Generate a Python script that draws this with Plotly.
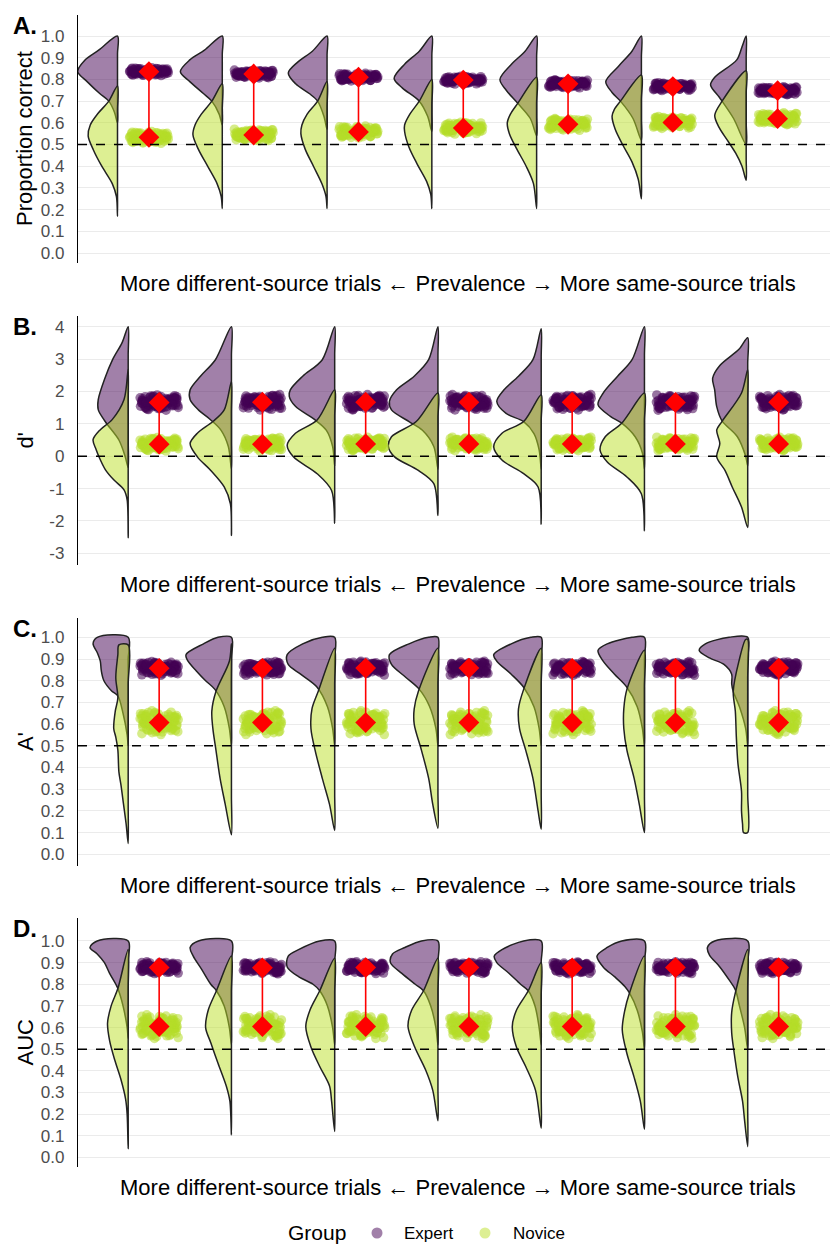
import plotly.graph_objects as go

# ---------------- DATA ----------------
CONDITIONS = [1, 2, 3, 4, 5, 6, 7]
GROUPS = ["Expert", "Novice"]
PANEL_LETTERS = ["A.", "B.", "C.", "D."]
Y_TITLES = ["Proportion correct", "d'", "A'", "AUC"]
X_TITLE = "More different-source trials \u2190 Prevalence \u2192 More same-source trials"
LEGEND_TITLE = "Group"
CHANCE = [0.5, 0.0, 0.5, 0.5]

# group means (red diamonds)
PC_EXPERT_MEAN = [0.836, 0.825, 0.81, 0.797, 0.78, 0.767, 0.748]
PC_NOVICE_MEAN = [0.533, 0.544, 0.558, 0.576, 0.593, 0.602, 0.619]
DP_EXPERT_MEAN = [1.66, 1.67, 1.67, 1.67, 1.67, 1.66, 1.67]
DP_NOVICE_MEAN = [0.37, 0.37, 0.38, 0.38, 0.38, 0.38, 0.38]
AP_EXPERT_MEAN = [0.857, 0.857, 0.858, 0.858, 0.857, 0.857, 0.858]
AP_NOVICE_MEAN = [0.607, 0.607, 0.607, 0.607, 0.607, 0.607, 0.607]
AUC_EXPERT_MEAN = [0.877, 0.876, 0.877, 0.877, 0.876, 0.877, 0.877]
AUC_NOVICE_MEAN = [0.605, 0.605, 0.605, 0.605, 0.605, 0.605, 0.605]

# half-width of the participant point bands (score units)
PT_SPREAD_EXPERT = [0.02, 0.26, 0.035, 0.03]
PT_SPREAD_NOVICE = [0.03, 0.23, 0.06, 0.06]

# density outlines: (score, density width) pairs, top to bottom
PC_EXPERT_DENS = [
    [(1.0, 0), (0.935, .18), (0.89, .31), (0.836, .38), (0.79, .29), (0.735, .17), (0.70, .083), (0.65, .03), (0.60, 0)],
    [(1.0, 0), (0.935, .17), (0.89, .31), (0.836, .40), (0.79, .31), (0.735, .18), (0.70, .10), (0.64, .03), (0.59, 0)],
    [(1.0, 0), (0.93, .14), (0.88, .28), (0.83, .37), (0.78, .30), (0.735, .17), (0.70, .09), (0.63, .03), (0.57, 0)],
    [(1.0, 0), (0.93, .12), (0.87, .26), (0.805, .36), (0.76, .28), (0.70, .12), (0.63, .04), (0.56, 0)],
    [(1.0, 0), (0.93, .11), (0.87, .24), (0.80, .35), (0.75, .29), (0.69, .18), (0.62, .06), (0.54, 0)],
    [(1.0, 0), (0.93, .09), (0.86, .22), (0.79, .34), (0.74, .28), (0.70, .20), (0.62, .08), (0.52, 0)],
    [(1.0, 0), (0.95, .04), (0.89, .09), (0.81, .30), (0.775, .34), (0.72, .26), (0.70, .23), (0.62, .12), (0.50, 0)],
]
PC_NOVICE_DENS = [
    [(0.77, 0), (0.70, .083), (0.644, .185), (0.59, .26), (0.54, .28), (0.475, .23), (0.40, .15), (0.32, .05), (0.26, .01), (0.17, 0)],
    [(0.78, 0), (0.70, .10), (0.64, .20), (0.59, .26), (0.545, .28), (0.48, .23), (0.40, .14), (0.32, .05), (0.26, .01), (0.205, 0)],
    [(0.79, 0), (0.70, .09), (0.64, .19), (0.59, .24), (0.55, .25), (0.48, .21), (0.40, .13), (0.32, .05), (0.26, .01), (0.205, 0)],
    [(0.80, 0), (0.70, .12), (0.64, .21), (0.59, .26), (0.56, .26), (0.49, .22), (0.41, .14), (0.33, .05), (0.27, .01), (0.205, 0)],
    [(0.81, 0), (0.69, .18), (0.64, .25), (0.60, .28), (0.55, .26), (0.48, .19), (0.40, .10), (0.32, .03), (0.205, 0)],
    [(0.82, 0), (0.70, .20), (0.66, .26), (0.63, .28), (0.57, .25), (0.50, .18), (0.42, .09), (0.34, .03), (0.25, 0)],
    [(0.84, 0), (0.70, .23), (0.635, .30), (0.58, .26), (0.52, .18), (0.46, .10), (0.40, .04), (0.335, 0)],
]
DP_EXPERT_DENS = [
    [(4.0, 0), (3.5, .06), (2.99, .15), (2.37, .23), (1.75, .29), (1.44, .29), (1.13, .235), (0.97, .20), (0.5, .09), (0.0, .03), (-0.35, 0)],
    [(4.0, 0), (2.98, .155), (2.47, .30), (2.05, .40), (1.74, .40), (1.43, .32), (1.12, .20), (0.8, .10), (0.3, .03), (-0.4, 0)],
    [(4.0, 0), (2.98, .12), (2.47, .31), (2.05, .43), (1.85, .44), (1.54, .38), (1.12, .19), (0.8, .08), (0.3, .02), (-0.3, 0)],
    [(4.0, 0), (2.98, .09), (2.47, .23), (2.05, .40), (1.69, .47), (1.43, .45), (1.07, .28), (0.8, .15), (0.3, .04), (-0.4, 0)],
    [(3.94, 0), (2.98, .08), (2.47, .22), (2.05, .36), (1.69, .43), (1.32, .34), (1.07, .17), (0.7, .07), (0.2, .02), (-0.4, 0)],
    [(4.0, 0), (2.98, .12), (2.47, .26), (1.95, .40), (1.59, .45), (1.23, .33), (1.02, .22), (0.6, .09), (0.1, .02), (-0.4, 0)],
    [(3.66, 0), (3.3, .085), (2.8, .27), (2.40, .34), (2.05, .32), (1.53, .30), (1.10, .25), (0.6, .10), (0.0, .02), (-0.3, 0)],
]
DP_NOVICE_DENS = [
    [(2.68, 0), (1.75, .04), (1.13, .155), (0.82, .27), (0.51, .34), (0.2, .31), (-0.11, .27), (-0.42, .22), (-0.73, .14), (-1.04, .04), (-1.35, .01), (-2.52, 0)],
    [(2.31, 0), (1.43, .07), (1.07, .18), (0.71, .33), (0.39, .40), (-0.02, .33), (-0.44, .20), (-0.95, .07), (-1.47, .01), (-2.45, 0)],
    [(2.05, 0), (1.12, .17), (0.71, .38), (0.34, .46), (-0.02, .40), (-0.54, .17), (-1.06, .03), (-2.07, 0)],
    [(1.95, 0), (1.07, .21), (0.60, .45), (0.29, .48), (-0.02, .42), (-0.44, .19), (-0.85, .04), (-1.83, 0)],
    [(1.90, 0), (1.07, .17), (0.71, .38), (0.29, .46), (-0.12, .38), (-0.54, .17), (-0.95, .03), (-2.1, 0)],
    [(1.95, 0), (1.02, .22), (0.60, .38), (0.19, .43), (-0.18, .36), (-0.64, .17), (-1.16, .03), (-2.3, 0)],
    [(2.67, 0), (1.95, .06), (1.07, .25), (0.81, .30), (0.39, .27), (-0.02, .30), (-0.44, .22), (-0.95, .15), (-1.57, .06), (-2.2, 0)],
]
AP_EXPERT_DENS = [
    [(1.0, .30), (0.97, .34), (0.93, .30), (0.89, .27), (0.845, .26), (0.80, .235), (0.753, .16), (0.73, .10), (0.65, .05), (0.55, .01), (0.5, 0)],
    [(1.0, .13), (0.97, .27), (0.92, .44), (0.89, .42), (0.845, .34), (0.80, .25), (0.76, .16), (0.68, .07), (0.58, .02), (0.5, 0)],
    [(1.0, .12), (0.97, .31), (0.92, .46), (0.875, .45), (0.83, .33), (0.77, .17), (0.68, .07), (0.58, .02), (0.5, 0)],
    [(1.0, .09), (0.97, .28), (0.92, .47), (0.875, .45), (0.815, .31), (0.76, .18), (0.68, .08), (0.58, .02), (0.5, 0)],
    [(1.0, .10), (0.97, .29), (0.92, .46), (0.89, .43), (0.83, .29), (0.77, .17), (0.68, .07), (0.58, .02), (0.5, 0)],
    [(1.0, .12), (0.97, .36), (0.94, .45), (0.89, .40), (0.83, .29), (0.77, .17), (0.68, .07), (0.58, .02), (0.5, 0)],
    [(1.0, .18), (0.97, .41), (0.94, .47), (0.905, .37), (0.875, .23), (0.83, .155), (0.785, .155), (0.75, .14), (0.68, .08), (0.58, .02), (0.5, 0)],
]
AP_NOVICE_DENS = [
    [(0.965, .09), (0.92, .10), (0.815, .12), (0.72, .10), (0.66, .125), (0.58, .14), (0.54, .12), (0.48, .10), (0.38, .09), (0.32, .07), (0.23, .045), (0.14, .02), (0.05, 0)],
    [(0.97, 0), (0.89, .02), (0.75, .15), (0.66, .19), (0.58, .18), (0.48, .15), (0.35, .11), (0.23, .06), (0.09, 0)],
    [(0.95, 0), (0.75, .16), (0.67, .22), (0.58, .23), (0.48, .19), (0.35, .12), (0.23, .05), (0.11, 0)],
    [(0.95, 0), (0.75, .19), (0.67, .23), (0.60, .23), (0.48, .16), (0.35, .09), (0.23, .05), (0.12, 0)],
    [(0.95, 0), (0.76, .17), (0.67, .22), (0.58, .21), (0.48, .15), (0.35, .08), (0.20, .03), (0.115, 0)],
    [(0.94, 0), (0.76, .17), (0.67, .20), (0.58, .20), (0.48, .17), (0.35, .10), (0.23, .05), (0.10, 0)],
    [(0.99, .02), (0.89, .085), (0.75, .14), (0.66, .12), (0.54, .11), (0.42, .095), (0.29, .06), (0.20, .06), (0.14, .05), (0.10, .04)],
]
AUC_EXPERT_DENS = [
    [(1.0, .30), (0.97, .37), (0.94, .30), (0.90, .23), (0.85, .18), (0.80, .12), (0.78, .10), (0.70, .05), (0.6, .01), (0.55, 0)],
    [(1.0, .32), (0.97, .40), (0.93, .37), (0.87, .29), (0.80, .20), (0.77, .145), (0.70, .07), (0.6, .02), (0.52, 0)],
    [(1.0, .145), (0.96, .35), (0.93, .45), (0.88, .46), (0.835, .35), (0.80, .21), (0.77, .145), (0.70, .07), (0.6, .02), (0.52, 0)],
    [(1.0, .16), (0.97, .32), (0.94, .44), (0.90, .46), (0.85, .35), (0.80, .22), (0.77, .14), (0.70, .07), (0.6, .02), (0.52, 0)],
    [(1.0, .17), (0.96, .38), (0.93, .455), (0.90, .43), (0.85, .31), (0.80, .20), (0.77, .125), (0.70, .06), (0.6, .02), (0.52, 0)],
    [(1.0, .22), (0.97, .36), (0.93, .46), (0.88, .40), (0.835, .29), (0.79, .19), (0.76, .145), (0.68, .07), (0.58, .02), (0.5, 0)],
    [(1.0, .32), (0.97, .39), (0.935, .37), (0.88, .27), (0.82, .18), (0.775, .12), (0.70, .08), (0.60, .03), (0.5, 0)],
]
AUC_NOVICE_DENS = [
    [(0.96, 0), (0.78, .10), (0.70, .165), (0.62, .20), (0.54, .18), (0.45, .13), (0.36, .07), (0.27, .025), (0.20, .01), (0.04, 0)],
    [(0.93, 0), (0.77, .145), (0.68, .225), (0.60, .25), (0.53, .20), (0.435, .13), (0.33, .05), (0.26, .015), (0.105, 0)],
    [(0.92, 0), (0.77, .145), (0.68, .24), (0.605, .28), (0.51, .23), (0.42, .145), (0.33, .05), (0.26, .03), (0.12, 0)],
    [(0.92, 0), (0.77, .14), (0.68, .255), (0.605, .29), (0.51, .225), (0.405, .12), (0.31, .05), (0.17, 0)],
    [(0.90, 0), (0.77, .125), (0.68, .24), (0.605, .28), (0.51, .24), (0.42, .15), (0.31, .055), (0.135, 0)],
    [(0.93, 0), (0.76, .145), (0.68, .19), (0.59, .215), (0.48, .17), (0.37, .10), (0.26, .04), (0.13, 0)],
    [(0.96, 0), (0.76, .12), (0.67, .155), (0.575, .155), (0.48, .13), (0.37, .095), (0.26, .05), (0.17, .03), (0.05, 0)],
]

# fixed jitter pattern (normalised offsets) used to spread the participant dots
JIT_DX = [-0.95, -0.71, -0.42, -0.18, 0.05, 0.31, 0.58, 0.83, 0.97, -0.88, -0.55, -0.30, -0.02, 0.22,
          0.47, 0.74, 0.91, -0.79, -0.63, -0.37, -0.10, 0.14, 0.39, 0.66, 0.88, -0.97, -0.47, -0.24,
          0.09, 0.35, 0.61, 0.79, -0.84, -0.12, 0.27, 0.52, 0.95, -0.66, 0.01, 0.70]
JIT_DY = [0.12, -0.45, 0.68, -0.10, 0.35, -0.72, 0.05, 0.50, -0.28, -0.60, 0.22, -0.85, 0.78, -0.38,
          0.15, -0.05, 0.62, 0.40, -0.18, 0.02, -0.52, 0.90, -0.66, 0.28, -0.40, -0.02, 0.55, 0.30,
          -0.25, 0.72, -0.92, 0.10, 0.80, 0.45, -0.12, -0.55, 0.18, -0.35, -0.70, 0.60]

# ---------------- STYLE / LAYOUT ----------------
W, H = 830, 1245
LEFT = 78
PLOT_W = W - LEFT
FONT = "Liberation Sans, Arial, sans-serif"
EXP_FILL = "rgba(68,1,84,0.5)"
NOV_FILL = "rgba(187,223,39,0.5)"
EXP_PT = "rgba(68,1,84,0.55)"
NOV_PT = "rgba(180,220,40,0.55)"
OUTLINE = "#222222"

PANEL_PX = [(15, 263), (316, 565), (618, 866), (918, 1167)]
Y_RANGES = [(-0.046, 1.097), (-3.36, 4.33), (-0.054, 1.089), (-0.044, 1.106)]
X_RANGES = [(0.623, 7.80), (0.514, 7.797), (0.514, 7.797), (0.514, 7.797)]
XTITLE_PX = [283, 584, 885, 1187]
PT_OFFSET = 0.30
PT_XJIT = 0.19


def px_x(px):
    return (px - LEFT) / PLOT_W


def px_y(py):
    return (H - py) / H


panels = [
    (PC_EXPERT_DENS, PC_NOVICE_DENS, PC_EXPERT_MEAN, PC_NOVICE_MEAN),
    (DP_EXPERT_DENS, DP_NOVICE_DENS, DP_EXPERT_MEAN, DP_NOVICE_MEAN),
    (AP_EXPERT_DENS, AP_NOVICE_DENS, AP_EXPERT_MEAN, AP_NOVICE_MEAN),
    (AUC_EXPERT_DENS, AUC_NOVICE_DENS, AUC_EXPERT_MEAN, AUC_NOVICE_MEAN),
]


def violin_path(cat, prof):
    xs, ys = [], []
    vt, vb = prof[0][0], prof[-1][0]
    xs.append(cat); ys.append(vt)
    for i, (v, w) in enumerate(prof):
        if w == 0 and (i == 0 or i == len(prof) - 1):
            continue
        xs.append(cat - w); ys.append(v)
    xs.append(cat); ys.append(vb)
    for f in (0.2, 0.4, 0.6, 0.8):
        xs.append(cat); ys.append(vb + (vt - vb) * f)
    xs.append(cat); ys.append(vt)
    return xs, ys


fig = go.Figure()
annotations = []
shapes = []
layout = {}

for p, (edens, ndens, emean, nmean) in enumerate(panels):
    xa = "x" if p == 0 else f"x{p + 1}"
    ya = "y" if p == 0 else f"y{p + 1}"
    for dens, fill in ((edens, EXP_FILL), (ndens, NOV_FILL)):
        X, Y = [], []
        for c, prof in zip(CONDITIONS, dens):
            xs, ys = violin_path(c, prof)
            X += xs + [None]
            Y += ys + [None]
        fig.add_trace(go.Scatter(x=X, y=Y, mode="lines", fill="toself", fillcolor=fill,
                                 line=dict(color=OUTLINE, width=1.5, shape="spline", smoothing=0.9),
                                 xaxis=xa, yaxis=ya, showlegend=False, hoverinfo="skip"))
    for means, spread, col in ((emean, PT_SPREAD_EXPERT[p], EXP_PT), (nmean, PT_SPREAD_NOVICE[p], NOV_PT)):
        X, Y = [], []
        n = len(JIT_DX)
        for k, (c, m) in enumerate(zip(CONDITIONS, means)):
            for rep, (sx, sy) in enumerate(((7, 3), (13, 17))):
                for j in range(n):
                    dx = JIT_DX[(j + sx * k + rep * 5) % n]
                    dy = JIT_DY[(j + sy * k + p + rep * 11) % n]
                    if rep:
                        dx = -dx * 0.92
                        dy = dy * 0.85
                    X.append(c + PT_OFFSET + dx * PT_XJIT)
                    Y.append(m + dy * spread)
        fig.add_trace(go.Scatter(x=X, y=Y, mode="markers",
                                 marker=dict(size=9.5, color=col, line=dict(width=0)),
                                 xaxis=xa, yaxis=ya, showlegend=False, hoverinfo="skip"))
    LX, LY = [], []
    for c, e, nv in zip(CONDITIONS, emean, nmean):
        LX += [c + PT_OFFSET, c + PT_OFFSET, None]
        LY += [e, nv, None]
    fig.add_trace(go.Scatter(x=LX, y=LY, mode="lines", line=dict(color="red", width=1.6),
                             xaxis=xa, yaxis=ya, showlegend=False, hoverinfo="skip"))
    fig.add_trace(go.Scatter(x=[c + PT_OFFSET for c in CONDITIONS] * 2, y=list(emean) + list(nmean),
                             mode="markers", marker=dict(symbol="diamond", size=16, color="red", line=dict(width=0)),
                             xaxis=xa, yaxis=ya, showlegend=False, hoverinfo="skip"))

    top, bot = PANEL_PX[p]
    dom = [px_y(bot), px_y(top)]
    if p == 1:
        tickvals = [-3, -2, -1, 0, 1, 2, 3, 4]
        ticktext = [str(t) for t in tickvals]
    else:
        tickvals = [i / 10 for i in range(11)]
        ticktext = [f"{t:.1f}" for t in tickvals]
    layout["xaxis" if p == 0 else f"xaxis{p + 1}"] = dict(
        domain=[0, 1], anchor=ya, range=list(X_RANGES[p]), showgrid=False, zeroline=False,
        showticklabels=False, showline=False, ticks="")
    layout["yaxis" if p == 0 else f"yaxis{p + 1}"] = dict(
        domain=dom, anchor=xa, range=list(Y_RANGES[p]), tickvals=tickvals, ticktext=ticktext,
        showgrid=True, gridcolor="#EBEBEB", gridwidth=1, zeroline=False, showline=True,
        linecolor="black", linewidth=1.3, ticks="", ticklabelstandoff=9,
        tickfont=dict(family=FONT, size=17, color="#4D4D4D"), automargin=False)
    shapes.append(dict(type="line", xref=f"{xa} domain", x0=0, x1=1, yref=ya, y0=CHANCE[p], y1=CHANCE[p],
                       line=dict(color="black", width=1.5, dash="dash"), layer="above"))
    annotations.append(dict(text=f"<b>{PANEL_LETTERS[p]}</b>", xref="paper", yref="paper",
                            x=px_x(11), y=px_y(top + 10), xanchor="left", yanchor="middle",
                            showarrow=False, font=dict(family=FONT, size=24, color="black")))
    annotations.append(dict(text=Y_TITLES[p], xref="paper", yref="paper", textangle=-90,
                            x=px_x(25), y=(dom[0] + dom[1]) / 2, xanchor="center", yanchor="middle",
                            showarrow=False, font=dict(family=FONT, size=22, color="black")))
    annotations.append(dict(text=X_TITLE, xref="paper", yref="paper",
                            x=px_x(458), y=px_y(XTITLE_PX[p]), xanchor="center", yanchor="middle",
                            showarrow=False, font=dict(family=FONT, size=22, color="black")))

# manual legend at the bottom
LEG_Y = 1232
annotations.append(dict(text=LEGEND_TITLE, xref="paper", yref="paper", x=px_x(287), y=px_y(LEG_Y),
                        xanchor="left", yanchor="middle", showarrow=False, borderpad=0,
                        font=dict(family=FONT, size=21, color="black")))
for g, col, dot_px, txt_px in zip(GROUPS, (EXP_FILL, NOV_FILL), (377, 485), (403, 512)):
    r = 5.5
    shapes.append(dict(type="circle", xref="paper", yref="paper",
                       x0=px_x(dot_px - r), x1=px_x(dot_px + r), y0=px_y(LEG_Y + 1 + r), y1=px_y(LEG_Y + 1 - r),
                       fillcolor=col, line=dict(width=0)))
    annotations.append(dict(text=g, xref="paper", yref="paper", x=px_x(txt_px), y=px_y(LEG_Y + 1),
                            xanchor="left", yanchor="middle", showarrow=False, borderpad=0,
                            font=dict(family=FONT, size=17, color="black")))

fig.update_layout(
    width=W, height=H, plot_bgcolor="white", paper_bgcolor="white",
    margin=dict(l=LEFT, r=0, t=0, b=0, autoexpand=False),
    shapes=shapes, annotations=annotations, showlegend=False,
    font=dict(family=FONT),
    **layout,
)

fig.write_html("out.html", config={"displayModeBar": False},
               post_script="document.body.style.margin='0px';document.body.style.overflow='hidden';")
